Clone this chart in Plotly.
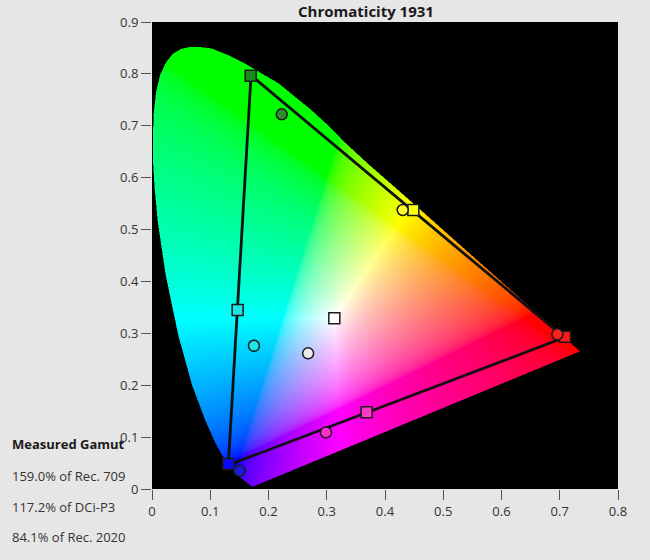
import numpy as np
import plotly.graph_objects as go
import zlib, struct, base64

# ---------------- data ----------------
# spectral locus (x, y)
locus_x = [0.1741, 0.1740, 0.1738, 0.1736, 0.1733, 0.1730, 0.1726, 0.1721, 0.1714, 0.1703,
           0.1689, 0.1669, 0.1644, 0.1611, 0.1566, 0.1510, 0.1440, 0.1355, 0.1241, 0.1096,
           0.0913, 0.0687, 0.0454, 0.0235, 0.0100, 0.0045, 0.0018, 0.0015, 0.0030, 0.0070,
           0.0140, 0.0240, 0.0360, 0.0500, 0.0650, 0.0800,
           0.1025, 0.1310, 0.1600, 0.1880, 0.2170, 0.2455, 0.2740, 0.3030, 0.3310, 0.3731,
           0.4087, 0.4441, 0.4788, 0.5125, 0.5448, 0.5752, 0.6029, 0.6270, 0.6482, 0.6658,
           0.6801, 0.6915, 0.7006, 0.7079, 0.7140, 0.7190, 0.7230, 0.7260, 0.7300, 0.7347]
locus_y = [0.0050, 0.0050, 0.0049, 0.0049, 0.0048, 0.0048, 0.0048, 0.0048, 0.0051, 0.0058,
           0.0069, 0.0086, 0.0109, 0.0138, 0.0177, 0.0227, 0.0297, 0.0399, 0.0578, 0.0868,
           0.1327, 0.2007, 0.2950, 0.4127, 0.5150, 0.5800, 0.6300, 0.6800, 0.7250, 0.7650,
           0.7980, 0.8220, 0.8390, 0.8480, 0.8520, 0.8520,
           0.8490, 0.8360, 0.8200, 0.8010, 0.7820, 0.7560, 0.7300, 0.7000, 0.6680, 0.6245,
           0.5896, 0.5547, 0.5202, 0.4866, 0.4544, 0.4242, 0.3965, 0.3725, 0.3514, 0.3340,
           0.3197, 0.3083, 0.2993, 0.2920, 0.2859, 0.2809, 0.2770, 0.2740, 0.2700, 0.2653]

# gamut triangle (R, G, B)
tri_x = [0.708, 0.170, 0.131]
tri_y = [0.292, 0.797, 0.046]

# targets (squares) and measured points (circles): R, G, B, C, M, Y, W
target_x = [0.709, 0.1694, 0.131, 0.147, 0.3685, 0.4487, 0.313]
target_y = [0.2935, 0.7965, 0.048, 0.345, 0.148, 0.5377, 0.329]
target_colors = ["#ff1a1a", "#1a8a1a", "#0a0aff", "#1ee3e3", "#ff3acb", "#ffff10", "#ffffff"]

measured_x = [0.696, 0.2227, 0.150, 0.175, 0.2987, 0.4304, 0.268]
measured_y = [0.298, 0.722, 0.035, 0.276, 0.109, 0.5377, 0.2615]
measured_colors = ["#ff2020", "#2a8c2a", "#1a1ae0", "#1ce8e8", "#ff2dd0", "#ffff30", "#ebebeb"]

chart_title = "Chromaticity 1931"
gamut_title = "Measured Gamut"
gamut_lines = ["159.0% of Rec. 709", "117.2% of DCi-P3", "84.1% of Rec. 2020"]

X_RANGE = [0, 0.8]
Y_RANGE = [0, 0.9]

# ---------------- layout geometry ----------------
FIG_W, FIG_H = 650, 560
M_L, M_R, M_T, M_B = 152, 32, 22, 71
PW, PH = FIG_W - M_L - M_R, FIG_H - M_T - M_B


def px_to_paper(px, py):
    return (px - M_L) / PW, (FIG_H - M_B - py) / PH


# ---------------- chromaticity fill image ----------------
W, H = PW, PH
SS = 2


def inside(px, py, vx, vy):
    res = np.zeros(px.shape, bool)
    n = len(vx)
    j = n - 1
    for i in range(n):
        xi, yi, xj, yj = vx[i], vy[i], vx[j], vy[j]
        if yi != yj:
            cond = ((yi > py) != (yj > py)) & (px < (xj - xi) * (py - yi) / (yj - yi) + xi)
            res ^= cond
        j = i
    return res


vx = np.array(locus_x)
vy = np.array(locus_y)
alpha = np.zeros((H, W))
for a in range(SS):
    for b in range(SS):
        sx = X_RANGE[0] + (np.arange(W) + (a + 0.5) / SS) / W * (X_RANGE[1] - X_RANGE[0])
        sy = Y_RANGE[1] - (np.arange(H) + (b + 0.5) / SS) / H * (Y_RANGE[1] - Y_RANGE[0])
        PX, PY = np.meshgrid(sx, sy)
        alpha += inside(PX, PY, vx, vy)
alpha /= SS * SS

cx = X_RANGE[0] + (np.arange(W) + 0.5) / W * (X_RANGE[1] - X_RANGE[0])
cy = Y_RANGE[1] - (np.arange(H) + 0.5) / H * (Y_RANGE[1] - Y_RANGE[0])
CX, CY = np.meshgrid(cx, cy)
CYs = np.maximum(CY, 1e-3)
Xv = CX / CYs
Zv = (1 - CX - CY) / CYs
r = 3.2406 * Xv - 1.5372 - 0.4986 * Zv
g = -0.9689 * Xv + 1.8758 + 0.0415 * Zv
bl = 0.0557 * Xv - 0.2040 + 1.0570 * Zv
rgb = np.stack([r, g, bl], axis=-1)
rgb = np.clip(rgb, 0, None)
rgb = rgb / np.maximum(rgb.max(axis=-1, keepdims=True), 1e-9)
rgb = np.where(rgb <= 0.0031308, 12.92 * rgb, 1.055 * np.power(rgb, 1 / 2.4) - 0.055)
img = np.zeros((H, W, 4), np.uint8)
img[..., :3] = np.clip(rgb * 255 + 0.5, 0, 255).astype(np.uint8)
img[..., 3] = np.clip(alpha * 255 + 0.5, 0, 255).astype(np.uint8)


def png_bytes(arr):
    h, w, _ = arr.shape
    raw = b"".join(b"\x00" + arr[i].tobytes() for i in range(h))

    def chunk(t, d):
        c = struct.pack(">I", len(d)) + t + d
        return c + struct.pack(">I", zlib.crc32(t + d) & 0xffffffff)

    return (b"\x89PNG\r\n\x1a\n"
            + chunk(b"IHDR", struct.pack(">IIBBBBB", w, h, 8, 6, 0, 0, 0))
            + chunk(b"IDAT", zlib.compress(raw, 9))
            + chunk(b"IEND", b""))


src = "data:image/png;base64," + base64.b64encode(png_bytes(img)).decode()

# ---------------- figure ----------------
FONT = "Open Sans"
fig = go.Figure()

fig.add_trace(go.Scatter(
    x=tri_x + [tri_x[0]], y=tri_y + [tri_y[0]], mode="lines",
    line=dict(color="#111111", width=2.8), hoverinfo="skip", showlegend=False))

fig.add_trace(go.Scatter(
    x=target_x, y=target_y, mode="markers",
    marker=dict(symbol="square", size=11, color=target_colors,
                line=dict(color="#1a1a1a", width=1.5)),
    showlegend=False))

fig.add_trace(go.Scatter(
    x=measured_x, y=measured_y, mode="markers",
    marker=dict(symbol="circle", size=11, color=measured_colors,
                line=dict(color="#1a1a1a", width=1.5)),
    showlegend=False))

fig.add_layout_image(dict(
    source=src, xref="x", yref="y", x=X_RANGE[0], y=Y_RANGE[1],
    sizex=X_RANGE[1] - X_RANGE[0], sizey=Y_RANGE[1] - Y_RANGE[0],
    xanchor="left", yanchor="top", sizing="stretch", layer="below"))

axis_common = dict(showgrid=False, zeroline=False, ticks="outside", ticklen=10,
                   tickwidth=1, tickcolor="#555555", dtick=0.1,
                   tickfont=dict(family=FONT, size=13, color="#333333"),
                   showline=False)

fig.update_xaxes(range=X_RANGE, tick0=0, **axis_common)
fig.update_yaxes(range=Y_RANGE, tick0=0, **axis_common)

annotations = []
tx, ty = px_to_paper(366, 11)
annotations.append(dict(text="<b>" + chart_title + "</b>", x=tx, y=ty,
                        xref="paper", yref="paper", xanchor="center", yanchor="middle",
                        showarrow=False, font=dict(family=FONT, size=15, color="#1a1a1a")))
gx, gy = px_to_paper(10, 444)
annotations.append(dict(text="<b>" + gamut_title + "</b>", x=gx, y=gy,
                        xref="paper", yref="paper", xanchor="left", yanchor="middle",
                        showarrow=False, font=dict(family=FONT, size=13, color="#1a1a1a")))
for k, t in enumerate(gamut_lines):
    lx, ly = px_to_paper(10, 476 + 30.5 * k)
    annotations.append(dict(text=t, x=lx, y=ly,
                            xref="paper", yref="paper", xanchor="left", yanchor="middle",
                            showarrow=False, font=dict(family=FONT, size=13, color="#333333")))

fig.update_layout(
    width=FIG_W, height=FIG_H,
    margin=dict(l=M_L, r=M_R, t=M_T, b=M_B),
    paper_bgcolor="#e6e6e6", plot_bgcolor="#000000",
    annotations=annotations,
    showlegend=False,
)

fig.write_html("out.html")
